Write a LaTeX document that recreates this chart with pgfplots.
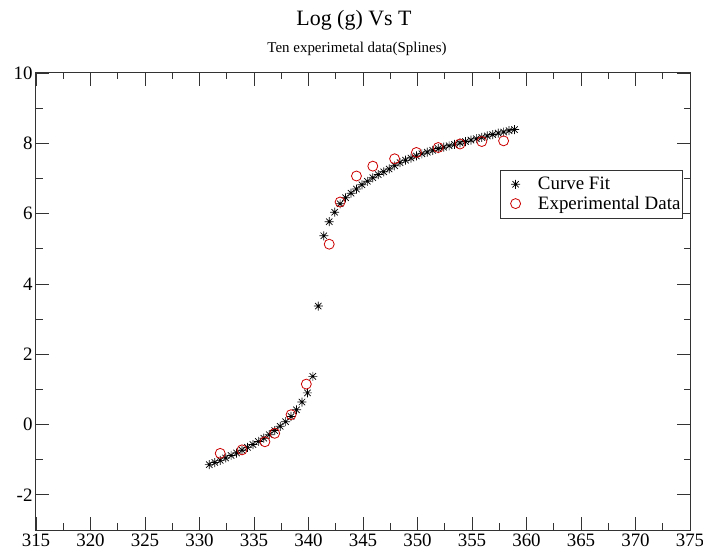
\documentclass[border=0pt]{standalone}
\usepackage{fontspec}
\setmainfont{Liberation Serif}
\usepackage{pgfplots}
\pgfplotsset{compat=1.18}
\pgfdeclareplotmark{star8}{%
  \pgfpathmoveto{\pgfqpoint{-\pgfplotmarksize}{0pt}}\pgfpathlineto{\pgfqpoint{\pgfplotmarksize}{0pt}}%
  \pgfpathmoveto{\pgfqpoint{0pt}{-\pgfplotmarksize}}\pgfpathlineto{\pgfqpoint{0pt}{\pgfplotmarksize}}%
  \pgfpathmoveto{\pgfqpoint{-0.707\pgfplotmarksize}{-0.707\pgfplotmarksize}}\pgfpathlineto{\pgfqpoint{0.707\pgfplotmarksize}{0.707\pgfplotmarksize}}%
  \pgfpathmoveto{\pgfqpoint{-0.707\pgfplotmarksize}{0.707\pgfplotmarksize}}\pgfpathlineto{\pgfqpoint{0.707\pgfplotmarksize}{-0.707\pgfplotmarksize}}%
  \pgfusepathqstroke}
\pgfplotsset{legend image code/.code={\path (-5bp,0bp) (30bp,0bp); \draw[#1] plot coordinates {(10bp,0bp)};}}
\begin{document}
\begin{tikzpicture}
\path[use as bounding box] (-36bp,-24bp) rectangle (667bp,530bp);
\begin{axis}[
 at={(0,0)}, anchor=south west,
 width=654bp, height=457bp, scale only axis,
 xmin=315, xmax=375, ymin=-3, ymax=10,
 xtick distance=5, ytick distance=2,
 minor x tick num=1, minor y tick num=1,
 tick align=inside, major tick length=13bp, minor tick length=6.5bp,
 axis line style={black!80, line width=1bp},
 every tick/.style={black!80, line width=0.8bp},
 tick label style={font=\fontsize{19}{21}\selectfont},
 /pgf/number format/assume math mode=true,
 /pgf/number format/1000 sep={},
 legend style={at={(0.989,0.788)}, anchor=north east, draw=black!80, line width=0.8bp,
   font=\fontsize{19}{22}\selectfont, row sep=1bp, inner ysep=5bp, inner xsep=0bp},
 legend cell align=left,
]
\addplot[only marks, mark=star8, mark size=4.5bp, black, line width=0.7bp] coordinates {
(330.9,-1.14) (331.4,-1.08) (331.9,-1.02) (332.4,-0.95) (332.9,-0.88) (333.4,-0.81)
(333.9,-0.73) (334.4,-0.65) (334.9,-0.57) (335.4,-0.48) (335.9,-0.39) (336.4,-0.29)
(336.9,-0.17) (337.4,-0.05) (337.9,0.08) (338.4,0.23) (338.9,0.42) (339.4,0.64)
(339.9,0.90) (340.4,1.37) (340.9,3.37) (341.4,5.37) (341.9,5.77) (342.4,6.04)
(342.9,6.28) (343.4,6.45) (343.9,6.58) (344.4,6.70) (344.9,6.82) (345.4,6.92)
(345.9,7.02) (346.4,7.11) (346.9,7.19) (347.4,7.27) (347.9,7.36) (348.4,7.45)
(348.9,7.52) (349.4,7.58) (349.9,7.64) (350.4,7.70) (350.9,7.75) (351.4,7.80)
(351.9,7.85) (352.4,7.89) (352.9,7.93) (353.4,7.97) (353.9,8.01) (354.4,8.05)
(354.9,8.09) (355.4,8.13) (355.9,8.17) (356.4,8.21) (356.9,8.25) (357.4,8.29)
(357.9,8.32) (358.4,8.36) (358.9,8.39)
};
\addlegendentry{Curve Fit}
\addplot[only marks, mark=o, mark size=5bp, red!80!black, line width=0.8bp] coordinates {
(331.9,-0.82) (333.9,-0.72) (336.0,-0.49) (336.9,-0.25) (338.4,0.28) (339.8,1.15)
(341.9,5.13) (342.9,6.33) (344.4,7.07) (345.9,7.35) (347.9,7.56) (349.9,7.74)
(351.9,7.88) (353.9,7.98) (355.9,8.05) (357.9,8.07)
};
\addlegendentry{Experimental Data}
\end{axis}
\node[font=\fontsize{22}{24}\selectfont] at (318bp,510bp) {Log (g) Vs T};
\node[font=\fontsize{15}{17}\selectfont] at (321bp,481bp) {Ten experimetal data(Splines)};
\end{tikzpicture}
\end{document}
